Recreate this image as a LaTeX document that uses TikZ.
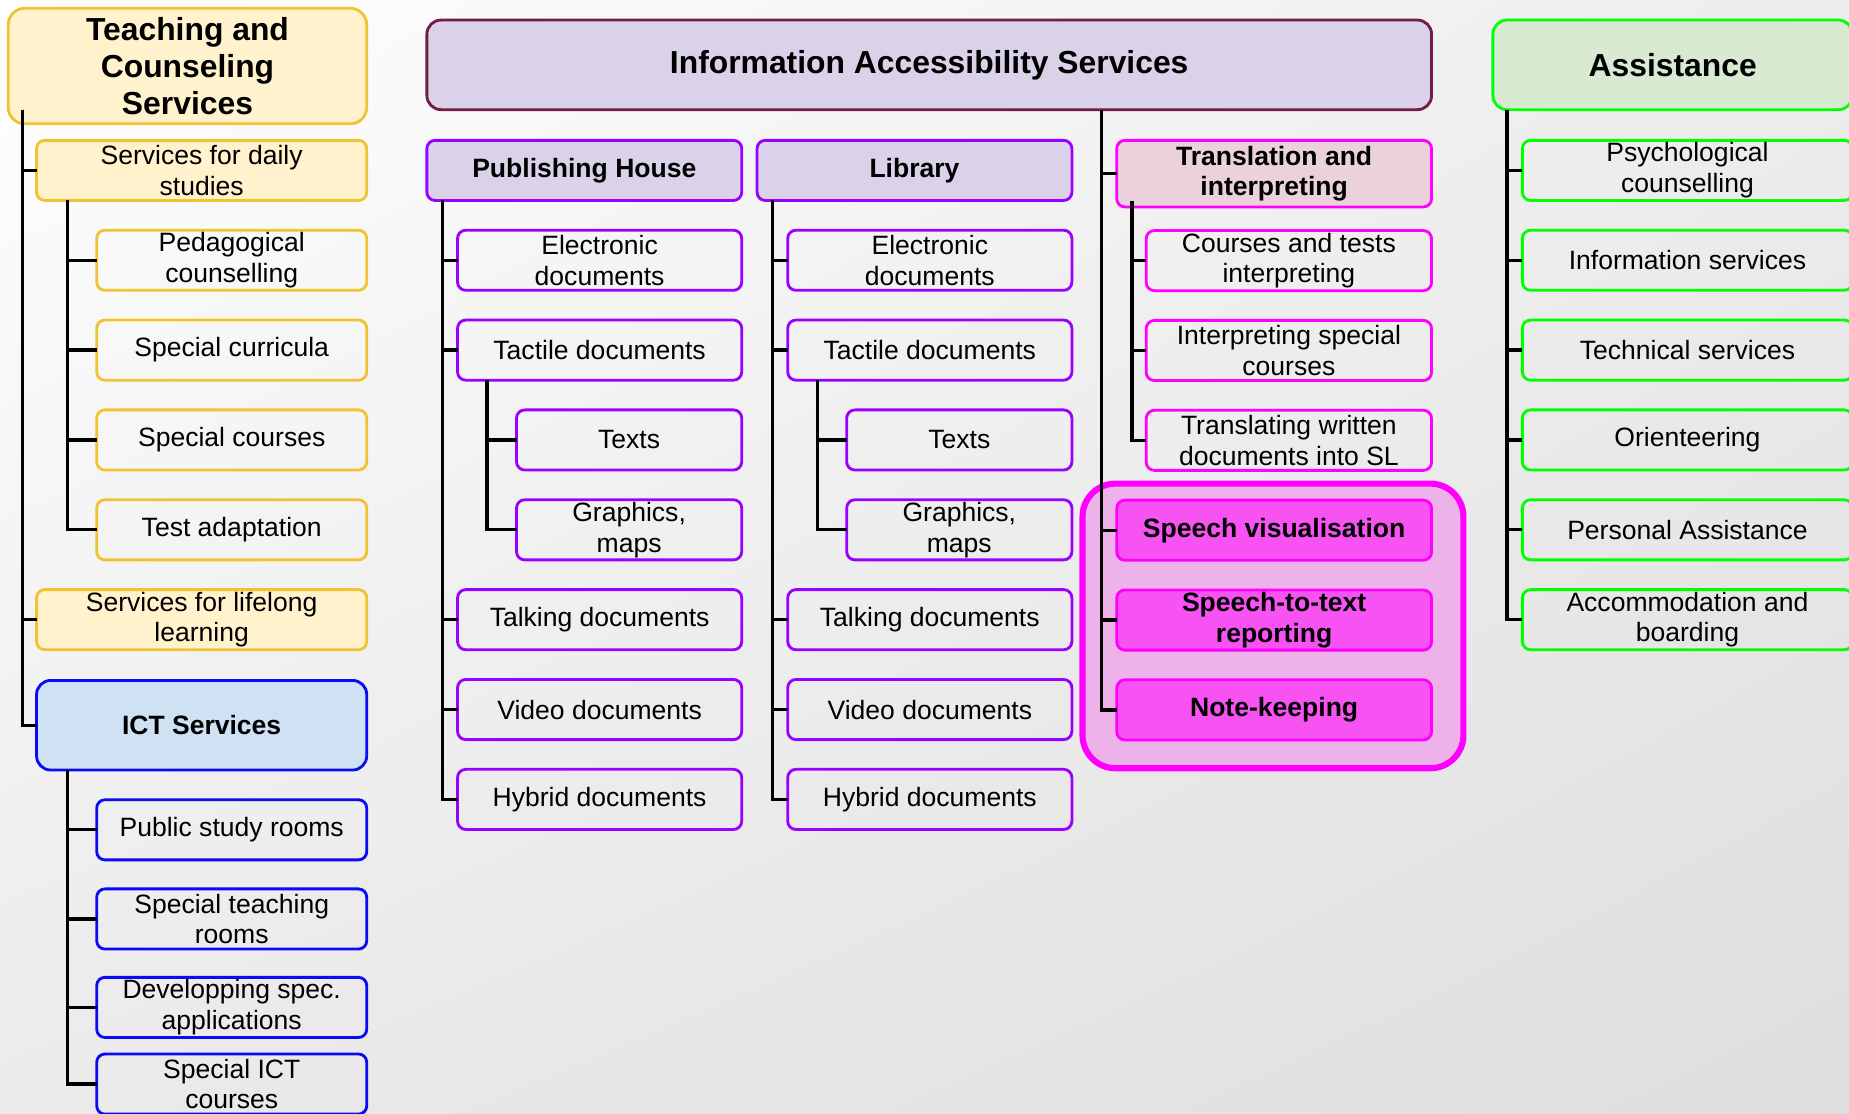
\documentclass[tikz,border=0pt]{standalone}
\usepackage{fontspec}
\setmainfont{Liberation Sans}
\usetikzlibrary{positioning}
\usetikzlibrary{calc}
\usetikzlibrary{backgrounds}
\usetikzlibrary{shadings}

\definecolor{teachline}{HTML}{F1C232}
\definecolor{teachfill}{HTML}{FFF2CC}
\definecolor{ictline}{HTML}{0A0AF5}
\definecolor{ictfill}{HTML}{CFE2F3}
\definecolor{iasline}{HTML}{741B47}
\definecolor{iasfill}{HTML}{D9D2E9}
\definecolor{publine}{HTML}{9900FF}
\definecolor{transline}{HTML}{FF00FF}
\definecolor{transfill}{HTML}{EAD1DC}
\definecolor{hilitefill}{HTML}{EEB2EA}
\definecolor{speechfill}{HTML}{F752F2}
\definecolor{assistline}{HTML}{00FF00}
\definecolor{assistfill}{HTML}{D9EAD3}

\begin{document}
\begin{tikzpicture}[
                            x=0.5pt, y=-0.5pt,
                            node distance=12.6pt,
                            cell/.style={draw, rounded corners=3.5pt, line width=1.2pt, minimum height=25.5pt,
                                         inner xsep=2pt, inner ysep=0.4pt, outer sep=0pt, align=center,
                                         font=\fontsize{11.25}{13}\selectfont},
                            cellhead/.style={cell, font=\fontsize{11.25}{13}\selectfont\bfseries},
                            bighead/.style={cell, rounded corners=6pt, minimum height=38pt,
                                            font=\fontsize{13.5}{15.75}\selectfont\bfseries},
                            teachtop/.style={bighead, draw=teachline, fill=teachfill, minimum width=152pt,
                                             minimum height=49pt, rounded corners=7pt},
                            teachsub/.style={cell, draw=teachline, fill=teachfill, minimum width=140pt},
                            teachcell/.style={cell, draw=teachline, minimum width=114.5pt},
                            icttop/.style={cellhead, draw=ictline, fill=ictfill, minimum width=140pt,
                                           minimum height=38pt, rounded corners=6pt},
                            ictcell/.style={cell, draw=ictline, minimum width=114.5pt},
                            iastop/.style={bighead, draw=iasline, fill=iasfill, minimum width=426pt},
                            pubhead/.style={cellhead, draw=publine, fill=iasfill, minimum width=133.5pt},
                            pubcell/.style={cell, draw=publine, minimum width=120.5pt},
                            pubsubcell/.style={cell, draw=publine, minimum width=95.5pt},
                            transtop/.style={cellhead, draw=transline, fill=transfill, minimum width=133.5pt,
                                             minimum height=28.25pt},
                            transcell/.style={cell, draw=transline, minimum width=121pt},
                            speech/.style={cellhead, draw=transline, fill=speechfill, minimum width=133.5pt},
                            hilite/.style={draw=transline, fill=hilitefill, line width=2.6pt, rounded corners=14pt},
                            assisttop/.style={bighead, draw=assistline, fill=assistfill, minimum width=152.5pt},
                            assistcell/.style={cell, draw=assistline, minimum width=140pt},
                            orgline/.style={line width=1.4pt, black}
                            ]
                            \useasboundingbox (0,0) rectangle (1568,944);
                            \clip (0,0) rectangle (1568,944);

                            % teaching and counseling
                            \node[teachtop, anchor=north west]                              (teach)      at (7,7) {Teaching and\\Counseling\\Services};
                            \node[teachsub, below=7pt of teach.south east, anchor=north east]     (daily)      {Services for daily\\studies};
                            \node[teachcell, below=of daily.south east, anchor=north east]        (pedag)      {Pedagogical\\counselling};
                            \node[teachcell, below=of pedag.south east, anchor=north east]        (curric)     {Special curricula};
                            \node[teachcell, below=of curric.south east, anchor=north east]       (spcourses)  {Special courses};
                            \node[teachcell, below=of spcourses.south east, anchor=north east]    (testadapt)  {Test adaptation};
                            \node[teachsub, below=of testadapt.south east, anchor=north east]     (lifelong)   {Services for lifelong\\learning};
                            \node[icttop, below=13pt of lifelong.south east, anchor=north east]   (ict)        {ICT Services};
                            \node[ictcell, below=of ict.south east, anchor=north east]            (studyrooms) {Public study rooms};
                            \node[ictcell, below=12.3pt of studyrooms.south east, anchor=north east] (teachrooms) {Special teaching\\rooms};
                            \node[ictcell, below=12pt of teachrooms.south east, anchor=north east] (devapps) {Developping spec.\\applications};
                            \node[ictcell, below=7pt of devapps.south east, anchor=north east]    (ictcourses) {Special ICT\\courses};

                            % information accessibility
                            \node[iastop, anchor=north west]                                (ias)        at (362,17) {Information Accessibility Services};
                            \node[pubhead, below=13pt of ias.south west, anchor=north west] (pubhouse)   {Publishing House};
                            \node[pubhead, right=6.5pt of pubhouse]                         (library)    {Library};

                            \node[pubcell, below=of pubhouse.south east, anchor=north east]    (phelec)   {Electronic\\documents};
                            \node[pubcell, below=of phelec.south east, anchor=north east]      (phtact)   {Tactile documents};
                            \node[pubsubcell, below=of phtact.south east, anchor=north east]   (phtexts)  {Texts};
                            \node[pubsubcell, below=of phtexts.south east, anchor=north east]  (phgraph)  {Graphics,\\maps};
                            \node[pubcell, below=of phgraph.south east, anchor=north east]     (phtalk)   {Talking documents};
                            \node[pubcell, below=of phtalk.south east, anchor=north east]      (phvideo)  {Video documents};
                            \node[pubcell, below=of phvideo.south east, anchor=north east]     (phhybrid) {Hybrid documents};

                            \node[pubcell, below=of library.south east, anchor=north east]     (libelec)   {Electronic\\documents};
                            \node[pubcell, below=of libelec.south east, anchor=north east]     (libtact)   {Tactile documents};
                            \node[pubsubcell, below=of libtact.south east, anchor=north east]  (libtexts)  {Texts};
                            \node[pubsubcell, below=of libtexts.south east, anchor=north east] (libgraph)  {Graphics,\\maps};
                            \node[pubcell, below=of libgraph.south east, anchor=north east]    (libtalk)   {Talking documents};
                            \node[pubcell, below=of libtalk.south east, anchor=north east]     (libvideo)  {Video documents};
                            \node[pubcell, below=of libvideo.south east, anchor=north east]    (libhybrid) {Hybrid documents};

                            \node[transtop, below=13pt of ias.south east, anchor=north east]   (transl)    {Translation and\\interpreting};
                            \node[transcell, below=10pt of transl.south east, anchor=north east] (courses) {Courses and tests\\interpreting};
                            \node[transcell, below=of courses.south east, anchor=north east]   (interp)    {Interpreting special\\courses};
                            \node[transcell, below=of interp.south east, anchor=north east]    (written)   {Translating written\\documents into SL};
                            \node[speech, below=of written.south east, anchor=north east]      (speechvis) {Speech visualisation};
                            \node[speech, below=of speechvis.south east, anchor=north east]    (sttr)      {Speech-to-text\\reporting};
                            \node[speech, below=of sttr.south east, anchor=north east]         (notes)     {Note-keeping};

                            % assistance
                            \node[assisttop, anchor=north west]                              (assist)    at (1266,17) {Assistance};
                            \node[assistcell, below=13pt of assist.south east, anchor=north east] (psych) {Psychological\\counselling};
                            \node[assistcell, below=of psych.south east, anchor=north east]     (infoserv)  {Information services};
                            \node[assistcell, below=of infoserv.south east, anchor=north east]  (techserv)  {Technical services};
                            \node[assistcell, below=of techserv.south east, anchor=north east]  (orient)    {Orienteering};
                            \node[assistcell, below=of orient.south east, anchor=north east]    (personal)  {Personal Assistance};
                            \node[assistcell, below=of personal.south east, anchor=north east]  (accom)     {Accommodation and\\boarding};

                            \begin{scope}[on background layer]
                                \shade[upper left=white, upper right=black!7, lower left=black!8, lower right=black!13]
                                    (0,0) rectangle (1568,944);
                                \draw[hilite] ($(speechvis.north west)+(-29,-14)$) rectangle ($(notes.south east)+(27,24)$);
                            \end{scope}

                            \draw[orgline] (teach.south west) ++(12,-12)  |- (daily.west);
                            \draw[orgline] (teach.south west) ++(12,-12)  |- (lifelong.west);
                            \draw[orgline] (teach.south west) ++(12,-12)  |- (ict.west);

                            \draw[orgline] (daily.south west) ++(26,0)    |- (pedag.west);
                            \draw[orgline] (daily.south west) ++(26,0)    |- (curric.west);
                            \draw[orgline] (daily.south west) ++(26,0)    |- (spcourses.west);
                            \draw[orgline] (daily.south west) ++(26,0)    |- (testadapt.west);

                            \draw[orgline] (ict.south west) ++(26,0)      |- (studyrooms.west);
                            \draw[orgline] (ict.south west) ++(26,0)      |- (teachrooms.west);
                            \draw[orgline] (ict.south west) ++(26,0)      |- (devapps.west);
                            \draw[orgline] (ict.south west) ++(26,0)      |- (ictcourses.west);

                            \draw[orgline] (pubhouse.south west) ++(13,0) |- (phelec.west);
                            \draw[orgline] (pubhouse.south west) ++(13,0) |- (phtact.west);
                            \draw[orgline] (pubhouse.south west) ++(13,0) |- (phtalk.west);
                            \draw[orgline] (pubhouse.south west) ++(13,0) |- (phvideo.west);
                            \draw[orgline] (pubhouse.south west) ++(13,0) |- (phhybrid.west);
                            \draw[orgline] (phtact.south west) ++(25,0)   |- (phtexts.west);
                            \draw[orgline] (phtact.south west) ++(25,0)   |- (phgraph.west);

                            \draw[orgline] (library.south west) ++(13,0)  |- (libelec.west);
                            \draw[orgline] (library.south west) ++(13,0)  |- (libtact.west);
                            \draw[orgline] (library.south west) ++(13,0)  |- (libtalk.west);
                            \draw[orgline] (library.south west) ++(13,0)  |- (libvideo.west);
                            \draw[orgline] (library.south west) ++(13,0)  |- (libhybrid.west);
                            \draw[orgline] (libtact.south west) ++(25,0)  |- (libtexts.west);
                            \draw[orgline] (libtact.south west) ++(25,0)  |- (libgraph.west);

                            \draw[orgline] (ias.south -| transl.west) ++(-13,0) |- (transl.west);
                            \draw[orgline] (ias.south -| transl.west) ++(-13,0) |- (speechvis.west);
                            \draw[orgline] (ias.south -| transl.west) ++(-13,0) |- (sttr.west);
                            \draw[orgline] (ias.south -| transl.west) ++(-13,0) |- (notes.west);
                            \draw[orgline] (transl.south west) ++(13,-5)  |- (courses.west);
                            \draw[orgline] (transl.south west) ++(13,-5)  |- (interp.west);
                            \draw[orgline] (transl.south west) ++(13,-5)  |- (written.west);

                            \draw[orgline] (assist.south west) ++(12,0)   |- (psych.west);
                            \draw[orgline] (assist.south west) ++(12,0)   |- (infoserv.west);
                            \draw[orgline] (assist.south west) ++(12,0)   |- (techserv.west);
                            \draw[orgline] (assist.south west) ++(12,0)   |- (orient.west);
                            \draw[orgline] (assist.south west) ++(12,0)   |- (personal.west);
                            \draw[orgline] (assist.south west) ++(12,0)   |- (accom.west);
                        \end{tikzpicture}
\end{document}
